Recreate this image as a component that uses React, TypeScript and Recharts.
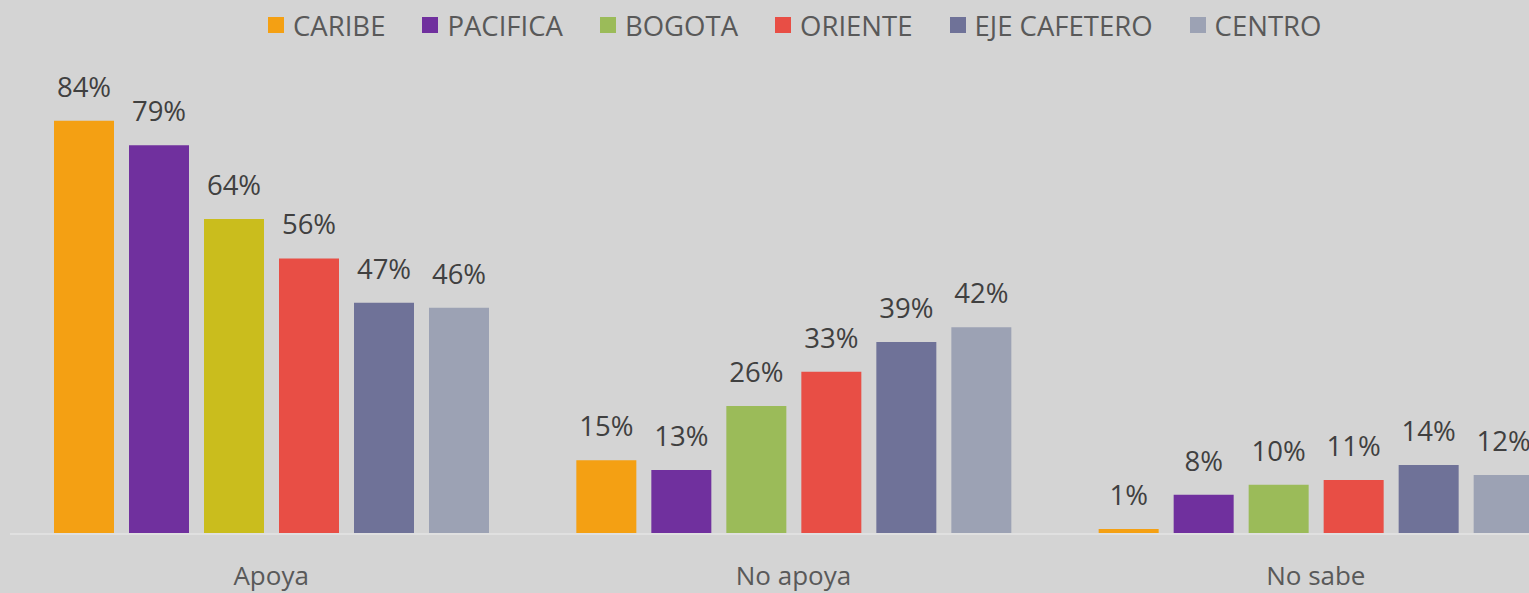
import { BarChart, Bar, XAxis, YAxis, LabelList, Cell } from 'recharts'

const categories = ['Apoya', 'No apoya', 'No sabe']

const caribe = [84, 15, 1]
const pacifica = [79, 13, 8]
const bogota = [64, 26, 10]
const oriente = [56, 33, 11]
const ejeCafetero = [47, 39, 14]
const centro = [46, 42, 12]

const series = [
  { key: 'caribe', name: 'CARIBE', values: caribe, color: '#F4A013' },
  { key: 'pacifica', name: 'PACIFICA', values: pacifica, color: '#70309E' },
  { key: 'bogota', name: 'BOGOTA', values: bogota, color: '#9BBB59' },
  { key: 'oriente', name: 'ORIENTE', values: oriente, color: '#E84E45' },
  { key: 'eje', name: 'EJE CAFETERO', values: ejeCafetero, color: '#6F7298' },
  { key: 'centro', name: 'CENTRO', values: centro, color: '#9CA2B4' },
]

// the Apoya bar for Bogota is drawn in a mustard tone in the original
const BOGOTA_APOYA = '#CABD1D'

const rows = categories.map((c, i) => {
  const row: Record<string, string | number> = { name: c }
  series.forEach(s => { row[s.key] = s.values[i] })
  return row
})

const FONT = '"Open Sans", sans-serif'

function LegendRow() {
  return (
    <div
      style={{
        position: 'absolute',
        top: 8,
        left: 268,
        display: 'flex',
        alignItems: 'center',
        height: 34,
        fontFamily: FONT,
        fontSize: 27.5,
        color: '#595959',
        whiteSpace: 'nowrap',
      }}
    >
      {series.map(s => (
        <div key={s.key} style={{ display: 'flex', alignItems: 'center', marginRight: 37 }}>
          <span style={{ width: 16, height: 16, background: s.color, marginRight: 9, display: 'inline-block' }} />
          <span>{s.name}</span>
        </div>
      ))}
    </div>
  )
}

export default function App() {
  return (
    <div
      style={{
        position: 'fixed',
        left: 0,
        top: 0,
        width: 1529,
        height: 593,
        overflow: 'hidden',
        background: '#D4D4D4',
        fontFamily: FONT,
      }}
    >
      <BarChart
        width={1600}
        height={593}
        data={rows}
        margin={{ top: 42, right: 23, left: 10, bottom: 0 }}
        barCategoryGap={44}
        barGap={15}
      >
        <XAxis
          dataKey="name"
          height={59}
          axisLine={{ stroke: '#E0E0E0', strokeWidth: 2 }}
          tickLine={false}
          tickMargin={27}
          tick={{ fill: '#595959', fontSize: 26, fontFamily: FONT }}
        />
        <YAxis hide domain={[0, 100]} />
        {series.map(s => (
          <Bar key={s.key} dataKey={s.key} name={s.name} fill={s.color} isAnimationActive={false}>
            {s.key === 'bogota' &&
              rows.map((r, i) => (
                <Cell key={i} fill={r.name === 'Apoya' ? BOGOTA_APOYA : s.color} />
              ))}
            <LabelList
              dataKey={s.key}
              position="top"
              offset={24}
              formatter={(v: number) => `${v}%`}
              style={{ fill: '#404040', fontSize: 27.5, fontFamily: FONT }}
            />
          </Bar>
        ))}
      </BarChart>
      <LegendRow />
    </div>
  )
}
